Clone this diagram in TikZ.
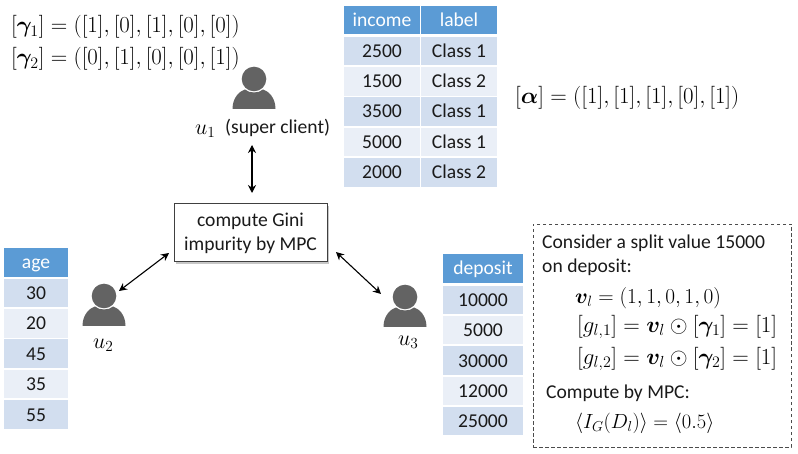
\RequirePackage{fix-cm}
\documentclass[tikz,border=0pt]{standalone}
\usetikzlibrary{arrows.meta}
\usepackage{amsmath,amssymb,bm}
\usepackage[no-math]{fontspec}
\setmainfont{Carlito}
\definecolor{hdr}{HTML}{5B9BD5}
\definecolor{rowa}{HTML}{D2DEEF}
\definecolor{rowb}{HTML}{EAEFF7}
\definecolor{txt}{HTML}{1A1A1A}
\definecolor{icon}{HTML}{636363}
\tikzset{
  x=1pt,y=-1pt,
  cell/.style={minimum width=#1,minimum height=28.5pt,text height=13pt,text depth=0pt,inner sep=0pt,outer sep=0pt,font=\fontsize{19.6}{21}\selectfont,text=txt,anchor=center},
  hcell/.style={cell=#1,fill=hdr,text=white},
  acell/.style={cell=#1,fill=rowa},
  bcell/.style={cell=#1,fill=rowb},
  mathtxt/.style={anchor=west,inner sep=0pt,font=\fontsize{22.9}{25}\selectfont,text=black},
  ulabel/.style={anchor=west,inner sep=0pt,font=\fontsize{22}{24}\selectfont,text=black},
  plain/.style={anchor=west,inner sep=0pt,font=\fontsize{19.6}{21}\selectfont,text=txt},
  link/.style={draw=black,line width=1.1pt,{Stealth[length=8pt,width=8pt]}-{Stealth[length=8pt,width=8pt]}},
  person/.pic={
    \fill[icon] (0,-17) circle[radius=12.3];
    \fill[icon] (-21.5,13) .. controls (-21.5,1) and (-14,-5) .. (-9,-6.5) .. controls (-5,-2.5) and (5,-2.5) .. (9,-6.5) .. controls (14,-5) and (21.5,1) .. (21.5,13) -- cycle;
  }
}
\begin{document}
\begin{tikzpicture}
\useasboundingbox (0,0) rectangle (798,454);
% top formulas
\node[mathtxt] (g1) at (11,27) {$[\bm{\gamma}_1]=([1],[0],[1],[0],[0])$};
\node[mathtxt] (g2) at (11,59) {$[\bm{\gamma}_2]=([0],[1],[0],[0],[1])$};
\node[mathtxt] (al) at (515,98) {$[\bm{\alpha}]=([1],[1],[1],[0],[1])$};
% people
\pic at (254,96) {person};
\pic at (104,313) {person};
\pic at (405,314) {person};
\node[ulabel] (u1) at (195,131) {$u_1$};
\node[plain] (sc) at (225,128) {(super client)};
\node[ulabel] (u2) at (93,345) {$u_2$};
\node[ulabel] (u3) at (398,342) {$u_3$};
% box
\fill[black!22] (176,206) rectangle (329,264);
\node[draw=black!75,line width=1pt,fill=white,minimum width=153pt,minimum height=58pt,inner sep=0pt,align=center,font=\fontsize{19.6}{24}\selectfont,text=txt] (gini) at (250.5,233) {compute Gini\\impurity by MPC};
\coordinate (a1) at (252,145);
\coordinate (b1) at (252,193);
\coordinate (a2) at (119,291);
\coordinate (b2) at (169,253);
\coordinate (a3) at (381,294);
\coordinate (b3) at (336,252);
\draw[link] (a1) -- (b1);
\draw[link] (a2) -- (b2);
\draw[link] (a3) -- (b3);
% income table
\node[hcell=76pt] (i0) at (382,20) {income};
\node[hcell=76pt] (l0) at (459,20) {label};
\foreach \y/\st/\a/\b [count=\i] in {51/acell/2500/Class 1,81.5/bcell/1500/Class 2,111.5/acell/3500/Class 1,142/bcell/5000/Class 1,172.5/acell/2000/Class 2}{
  \node[\st=76pt] (i\i) at (382,\y) {\a};
  \node[\st=76pt] (l\i) at (459,\y) {\b};
}
% age table
\node[hcell=64pt] (a0) at (36,262.5) {age};
\foreach \y/\st/\a [count=\i] in {293/acell/30,323.5/bcell/20,353.5/acell/45,384/bcell/35,414.5/acell/55}{
  \node[\st=64pt] (ag\i) at (36,\y) {\a};
}
% deposit table
\node[hcell=80pt] (d0) at (483,268.5) {deposit};
\foreach \y/\st/\a [count=\i] in {300/acell/10000,330/bcell/5000,360.5/acell/30000,391/bcell/12000,421/acell/25000}{
  \node[\st=80pt] (d\i) at (483,\y) {\a};
}
% dashed box
\node[draw=black!70,dash pattern=on 3.5pt off 2.5pt,line width=.9pt,minimum width=258pt,minimum height=223pt,inner sep=0pt] (dbox) at (662,335.5) {};
\node[plain] (t1) at (542,243) {Consider a split value 15000};
\node[plain] (t2) at (542,267) {on deposit:};
\node[mathtxt,font=\fontsize{21.3}{24}\selectfont] (m1) at (575,298) {$\bm{v}_l=(1,1,0,1,0)$};
\node[mathtxt] (m2) at (577,327) {$[g_{l,1}]=\bm{v}_l\odot[\bm{\gamma}_1]=[1]$};
\node[mathtxt] (m3) at (577,359) {$[g_{l,2}]=\bm{v}_l\odot[\bm{\gamma}_2]=[1]$};
\node[plain] (t3) at (546,393) {Compute by MPC:};
\node[mathtxt,font=\fontsize{20.5}{23}\selectfont] (m4) at (575,423) {$\langle I_G(D_l)\rangle=\langle 0.5\rangle$};
\end{tikzpicture}
\end{document}
